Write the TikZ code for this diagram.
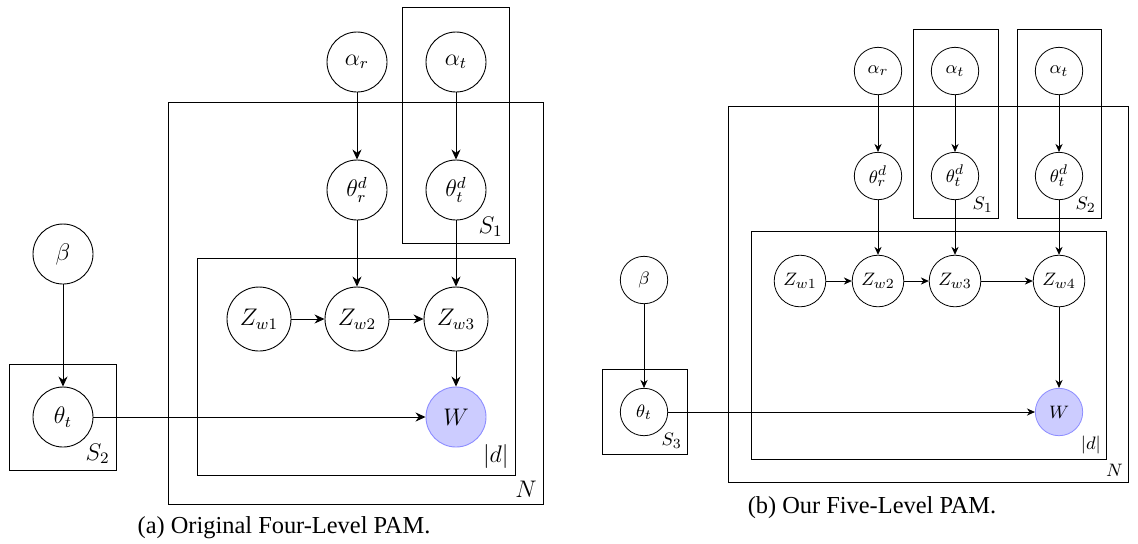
\documentclass[tikz,border=0pt]{standalone}
\usepackage{fontspec}
\setmainfont{Liberation Serif}
\usetikzlibrary{arrows.meta}
\begin{document}
\begin{tikzpicture}[x=0.5pt,y=-0.5pt,
  latA/.style={circle,draw,fill=white,minimum size=30pt,inner sep=0pt,line width=0.45pt,font=\fontsize{12}{14}\selectfont},
  zA/.style={latA,minimum size=32pt},
  obsA/.style={latA,fill=blue!20,draw=blue!45},
  latB/.style={circle,draw,fill=white,minimum size=23.7pt,inner sep=0pt,line width=0.4pt,font=\fontsize{9.5}{11}\selectfont},
  zB/.style={latB,minimum size=25.8pt},
  obsB/.style={latB,fill=blue!20,draw=blue!45},
  edgeA/.style={-{Stealth[length=5pt,width=4.5pt,inset=1.6pt]},line width=0.5pt},
  edgeB/.style={-{Stealth[length=4pt,width=3.6pt,inset=1.3pt]},line width=0.42pt},
  plateA/.style={draw,line width=0.45pt},
  plateB/.style={draw,line width=0.45pt},
  plabA/.style={anchor=south east,inner sep=3pt,font=\fontsize{12}{14}\selectfont},
  plabB/.style={anchor=south east,inner sep=2.4pt,font=\fontsize{9.5}{11}\selectfont},
  capt/.style={font=\fontsize{12.2}{14}\selectfont}
]
\useasboundingbox (0,0) rectangle (1138,543);

% ---------- (a) ----------
\draw[plateA] (402,7) rectangle (509,243);
\draw[plateA] (168,102) rectangle (543,504);
\draw[plateA] (197,258) rectangle (515,475);
\draw[plateA] (9,364) rectangle (116,470);
\node[plabA] (aS1) at (509,243) {$S_1$};
\node[plabA] (aN) at (543,504) {$N$};
\node[plabA] (ad) at (515,475) {$|d|$};
\node[plabA] (aS2) at (116,470) {$S_2$};

\node[latA] (aar) at (357,62) {$\alpha_r$};
\node[latA] (aat) at (456,62) {$\alpha_t$};
\node[latA] (athr) at (357,190) {$\theta_r^d$};
\node[latA] (atht) at (456,190) {$\theta_t^d$};
\node[zA] (az1) at (259,319) {$Z_{w1}$};
\node[zA] (az2) at (357,319) {$Z_{w2}$};
\node[zA] (az3) at (456,319) {$Z_{w3}$};
\node[obsA] (aw) at (456,417) {$W$};
\node[latA] (abeta) at (63,254) {$\beta$};
\node[latA] (atheta) at (63,417) {$\theta_t$};

\draw[edgeA] (aar) -- (athr);
\draw[edgeA] (aat) -- (atht);
\draw[edgeA] (athr) -- (az2);
\draw[edgeA] (atht) -- (az3);
\draw[edgeA] (az1) -- (az2);
\draw[edgeA] (az2) -- (az3);
\draw[edgeA] (az3) -- (aw);
\draw[edgeA] (abeta) -- (atheta);
\draw[edgeA] (atheta) -- (aw);

\node[capt] (acap) at (284,528) {(a) Original Four-Level PAM.};

% ---------- (b) ----------
\draw[plateB] (913,29) rectangle (998,218);
\draw[plateB] (1017,29) rectangle (1101,218);
\draw[plateB] (728,106) rectangle (1128,482);
\draw[plateB] (751,231) rectangle (1106,459);
\draw[plateB] (602,369) rectangle (687,454);
\node[plabB] (bS1) at (998,218) {$S_1$};
\node[plabB] (bS2) at (1101,218) {$S_2$};
\node[plabB] (bN) at (1128,482) {$N$};
\node[plabB] (bd) at (1106,459) {$|d|$};
\node[plabB] (bS3) at (687,454) {$S_3$};

\node[latB] (bar) at (878,71) {$\alpha_r$};
\node[latB] (bat1) at (955,71) {$\alpha_t$};
\node[latB] (bat2) at (1059,71) {$\alpha_t$};
\node[latB] (bthr) at (878,176) {$\theta_r^d$};
\node[latB] (btht1) at (955,176) {$\theta_t^d$};
\node[latB] (btht2) at (1059,176) {$\theta_t^d$};
\node[zB] (bz1) at (800,281) {$Z_{w1}$};
\node[zB] (bz2) at (878,281) {$Z_{w2}$};
\node[zB] (bz3) at (955,281) {$Z_{w3}$};
\node[zB] (bz4) at (1059,281) {$Z_{w4}$};
\node[obsB] (bw) at (1059,412) {$W$};
\node[latB] (bbeta) at (644,280) {$\beta$};
\node[latB] (btheta) at (644,412) {$\theta_t$};

\draw[edgeB] (bar) -- (bthr);
\draw[edgeB] (bat1) -- (btht1);
\draw[edgeB] (bat2) -- (btht2);
\draw[edgeB] (bthr) -- (bz2);
\draw[edgeB] (btht1) -- (bz3);
\draw[edgeB] (btht2) -- (bz4);
\draw[edgeB] (bz1) -- (bz2);
\draw[edgeB] (bz2) -- (bz3);
\draw[edgeB] (bz3) -- (bz4);
\draw[edgeB] (bz4) -- (bw);
\draw[edgeB] (bbeta) -- (btheta);
\draw[edgeB] (btheta) -- (bw);

\node[capt] (bcap) at (872,508) {(b) Our Five-Level PAM.};
\end{tikzpicture}
\end{document}
